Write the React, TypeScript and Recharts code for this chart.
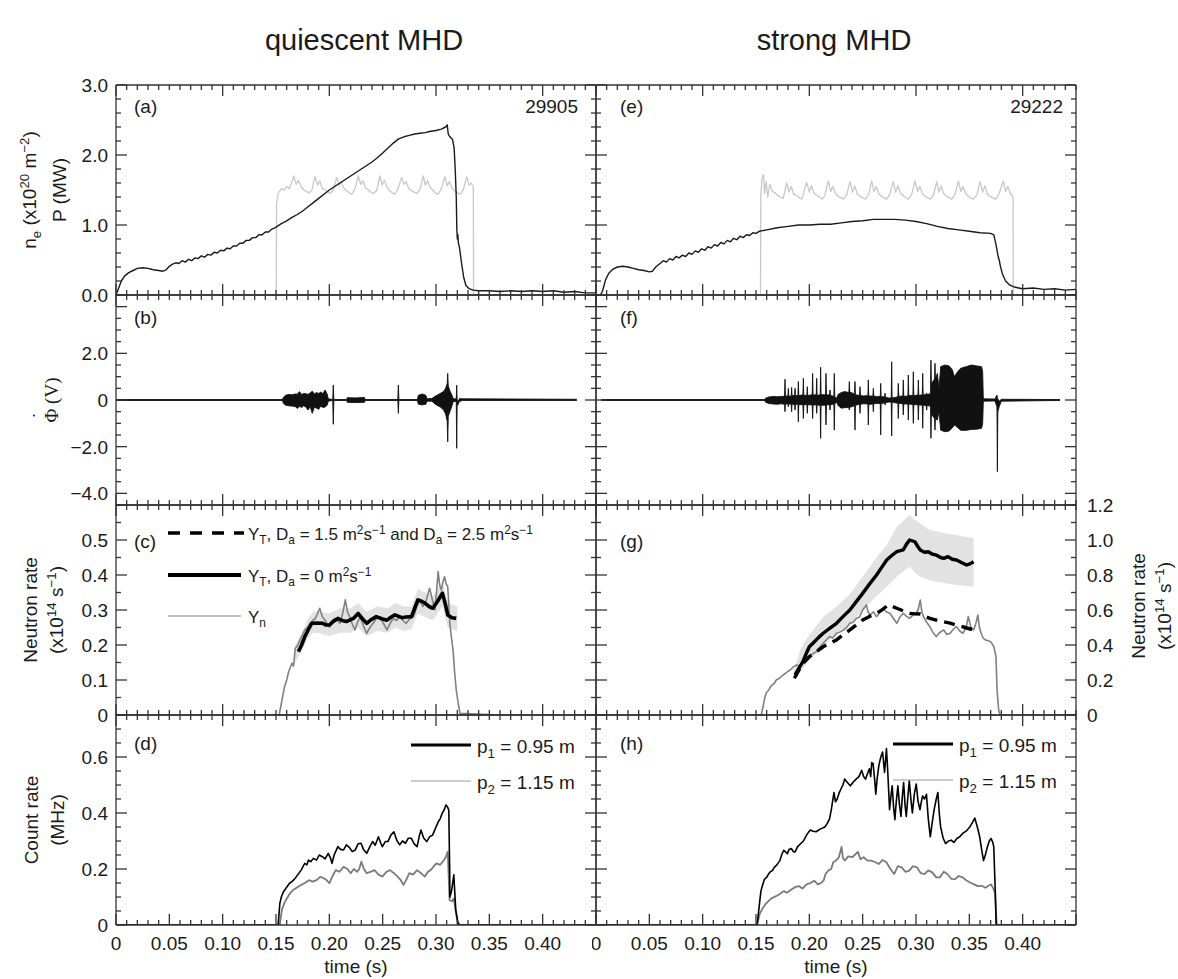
import React from "react";
import { ComposedChart, Line, Area, XAxis, YAxis } from "recharts";

type Pt = [number, number];
type Env = [number, number, number];

const FONT = '"Liberation Sans", Arial, Helvetica, sans-serif';
const SERIF = '"Liberation Serif", "DejaVu Serif", serif';
const INK = "#1a1a1a";
const AXIS = "#333";

// ---------- panel (a): shot 29905, density (black) and NBI power (grey) ----------
const densityA: Pt[] = [
  [0, 0], [0.002, 0.08], [0.005, 0.2], [0.008, 0.27], [0.012, 0.32], [0.016, 0.35], [0.02, 0.38],
  [0.025, 0.39], [0.03, 0.38], [0.035, 0.36], [0.04, 0.35], [0.044, 0.34], [0.047, 0.36], [0.05, 0.41],
  [0.053, 0.44], [0.056, 0.46], [0.059, 0.45], [0.062, 0.49], [0.065, 0.47], [0.068, 0.51], [0.071, 0.49],
  [0.074, 0.53], [0.077, 0.52], [0.08, 0.56], [0.083, 0.54], [0.086, 0.58], [0.089, 0.57], [0.092, 0.61],
  [0.095, 0.6], [0.098, 0.64], [0.101, 0.63], [0.104, 0.67], [0.107, 0.66], [0.11, 0.7], [0.113, 0.7],
  [0.116, 0.74], [0.119, 0.74], [0.122, 0.78], [0.125, 0.78], [0.128, 0.82], [0.131, 0.82], [0.134, 0.86],
  [0.137, 0.86], [0.14, 0.9], [0.143, 0.9], [0.146, 0.94], [0.149, 0.96], [0.155, 1.02], [0.16, 1.06],
  [0.165, 1.11], [0.17, 1.15], [0.175, 1.2], [0.18, 1.26], [0.185, 1.32], [0.19, 1.38], [0.195, 1.44],
  [0.2, 1.5], [0.205, 1.55], [0.21, 1.6], [0.215, 1.65], [0.22, 1.7], [0.225, 1.75], [0.23, 1.8],
  [0.235, 1.85], [0.24, 1.9], [0.245, 1.96], [0.25, 2.03], [0.255, 2.1], [0.26, 2.17], [0.265, 2.23],
  [0.27, 2.26], [0.275, 2.28], [0.28, 2.3], [0.285, 2.31], [0.29, 2.32], [0.295, 2.34], [0.3, 2.35],
  [0.305, 2.37], [0.309, 2.4], [0.3105, 2.43], [0.3115, 2.3], [0.313, 2.26], [0.3155, 2.22], [0.317, 2.1],
  [0.318, 1.8], [0.319, 1.4], [0.3195, 0.95], [0.32, 0.8], [0.3205, 0.86], [0.321, 0.74], [0.322, 0.68],
  [0.324, 0.45], [0.326, 0.25], [0.328, 0.14], [0.331, 0.09], [0.335, 0.07], [0.34, 0.06], [0.35, 0.06],
  [0.36, 0.05], [0.37, 0.06], [0.38, 0.05], [0.39, 0.06], [0.4, 0.05], [0.41, 0.06], [0.42, 0.04],
  [0.43, 0.05], [0.44, 0.03], [0.45, 0.03],
];
const powerA: Pt[] = [
  [0.1503, 0], [0.1505, 1.3], [0.152, 1.45], [0.155, 1.52], [0.1575, 1.5], [0.16, 1.55], [0.1625, 1.52],
  [0.165, 1.62], [0.1665, 1.7], [0.169, 1.58], [0.171, 1.64], [0.1735, 1.55], [0.176, 1.5], [0.1785, 1.48],
  [0.181, 1.46], [0.1835, 1.49], [0.1866, 1.69], [0.189, 1.57], [0.191, 1.63], [0.1935, 1.52], [0.196, 1.5],
  [0.1985, 1.47], [0.201, 1.45], [0.2035, 1.5], [0.2069, 1.68], [0.209, 1.56], [0.211, 1.62], [0.2135, 1.53],
  [0.216, 1.49], [0.2185, 1.46], [0.221, 1.44], [0.224, 1.52], [0.2272, 1.7], [0.2295, 1.58], [0.2315, 1.63],
  [0.234, 1.53], [0.2365, 1.5], [0.239, 1.47], [0.2415, 1.45], [0.2445, 1.5], [0.2475, 1.7], [0.2495, 1.57],
  [0.2515, 1.64], [0.254, 1.54], [0.2565, 1.49], [0.259, 1.46], [0.2615, 1.44], [0.2645, 1.52], [0.2678, 1.68],
  [0.27, 1.58], [0.272, 1.62], [0.2745, 1.52], [0.277, 1.49], [0.2795, 1.47], [0.282, 1.45], [0.285, 1.51],
  [0.2881, 1.7], [0.29, 1.57], [0.292, 1.63], [0.2945, 1.54], [0.297, 1.5], [0.2995, 1.46], [0.302, 1.44],
  [0.305, 1.52], [0.3084, 1.69], [0.3105, 1.56], [0.3125, 1.62], [0.315, 1.53], [0.3175, 1.49], [0.32, 1.46],
  [0.3225, 1.44], [0.3255, 1.5], [0.3288, 1.69], [0.331, 1.57], [0.333, 1.6], [0.335, 1.55], [0.3352, 0],
];

// ---------- panel (e): shot 29222 ----------
const densityE: Pt[] = [
  [0, 0], [0.004, 0], [0.006, 0.05], [0.009, 0.22], [0.012, 0.31], [0.016, 0.37], [0.02, 0.4],
  [0.025, 0.41], [0.03, 0.4], [0.035, 0.38], [0.04, 0.36], [0.045, 0.35], [0.05, 0.33], [0.053, 0.34],
  [0.056, 0.4], [0.06, 0.45], [0.063, 0.49], [0.066, 0.47], [0.069, 0.52], [0.072, 0.5], [0.075, 0.55],
  [0.078, 0.53], [0.081, 0.57], [0.084, 0.55], [0.087, 0.6], [0.09, 0.58], [0.093, 0.63], [0.096, 0.61],
  [0.099, 0.66], [0.102, 0.64], [0.105, 0.69], [0.108, 0.67], [0.111, 0.72], [0.114, 0.7], [0.117, 0.75],
  [0.12, 0.73], [0.123, 0.78], [0.126, 0.76], [0.129, 0.81], [0.132, 0.79], [0.135, 0.84], [0.138, 0.82],
  [0.141, 0.86], [0.144, 0.85], [0.147, 0.89], [0.15, 0.88], [0.153, 0.91], [0.16, 0.93], [0.17, 0.96],
  [0.18, 0.98], [0.19, 1.0], [0.2, 1.0], [0.21, 1.01], [0.22, 1.01], [0.23, 1.03], [0.24, 1.05],
  [0.25, 1.06], [0.26, 1.08], [0.27, 1.08], [0.28, 1.08], [0.29, 1.07], [0.3, 1.05], [0.31, 1.02],
  [0.32, 0.98], [0.33, 0.95], [0.34, 0.93], [0.35, 0.91], [0.36, 0.89], [0.37, 0.88], [0.373, 0.86],
  [0.375, 0.72], [0.377, 0.55], [0.378, 0.5], [0.379, 0.42], [0.381, 0.3], [0.384, 0.2], [0.388, 0.14],
  [0.393, 0.11], [0.4, 0.09], [0.41, 0.1], [0.42, 0.08], [0.43, 0.09], [0.44, 0.07], [0.45, 0.08],
];
const powerE: Pt[] = [
  [0.1542, 0], [0.1545, 1.4], [0.1555, 1.66], [0.157, 1.72], [0.158, 1.45], [0.1595, 1.62], [0.161, 1.4],
  [0.163, 1.58], [0.1655, 1.48], [0.168, 1.46], [0.1705, 1.42], [0.173, 1.4], [0.1755, 1.38], [0.1788, 1.6],
  [0.181, 1.47], [0.183, 1.55], [0.1855, 1.44], [0.188, 1.42], [0.1905, 1.39], [0.193, 1.37], [0.1975, 1.61],
  [0.2, 1.47], [0.202, 1.56], [0.2045, 1.45], [0.207, 1.42], [0.2095, 1.4], [0.212, 1.37], [0.2145, 1.42],
  [0.2178, 1.63], [0.22, 1.48], [0.222, 1.55], [0.2245, 1.45], [0.227, 1.41], [0.2295, 1.39], [0.232, 1.37],
  [0.235, 1.43], [0.2381, 1.62], [0.2405, 1.47], [0.2425, 1.56], [0.245, 1.44], [0.2475, 1.41], [0.25, 1.39],
  [0.2525, 1.37], [0.2555, 1.43], [0.2584, 1.63], [0.2605, 1.48], [0.2625, 1.55], [0.265, 1.45], [0.2675, 1.41],
  [0.27, 1.39], [0.2725, 1.37], [0.2755, 1.44], [0.2787, 1.62], [0.281, 1.47], [0.283, 1.56], [0.2855, 1.45],
  [0.288, 1.42], [0.2905, 1.39], [0.293, 1.37], [0.296, 1.44], [0.299, 1.63], [0.3015, 1.48], [0.3035, 1.55],
  [0.306, 1.45], [0.3085, 1.41], [0.311, 1.39], [0.3135, 1.37], [0.3165, 1.43], [0.3194, 1.62], [0.3215, 1.47],
  [0.3235, 1.56], [0.326, 1.45], [0.3285, 1.41], [0.331, 1.39], [0.3335, 1.37], [0.3365, 1.44], [0.3397, 1.63],
  [0.342, 1.48], [0.344, 1.55], [0.3465, 1.45], [0.349, 1.41], [0.3515, 1.38], [0.354, 1.37], [0.357, 1.43],
  [0.36, 1.62], [0.3625, 1.47], [0.3645, 1.56], [0.367, 1.44], [0.3695, 1.41], [0.372, 1.39], [0.3745, 1.37],
  [0.378, 1.45], [0.3818, 1.63], [0.384, 1.48], [0.386, 1.55], [0.3885, 1.45], [0.391, 1.4], [0.3912, 0],
];

// ---------- panels (b), (f): magnetic pick-up signal, [time, min, max] ----------
const mhdB: Env[] = [
  [0, -0.02, 0.02], [0.156, -0.02, 0.02], [0.157, -0.15, 0.12], [0.159, -0.22, 0.2], [0.162, -0.25, 0.24],
  [0.165, -0.26, 0.22], [0.168, -0.28, 0.26], [0.17, -0.36, 0.25], [0.172, -0.27, 0.36], [0.174, -0.32, 0.24],
  [0.176, -0.25, 0.28], [0.178, -0.3, 0.27], [0.18, -0.43, 0.24], [0.182, -0.28, 0.3], [0.184, -0.57, 0.38],
  [0.186, -0.3, 0.26], [0.188, -0.35, 0.32], [0.19, -0.4, 0.28], [0.192, -0.26, 0.34], [0.194, -0.32, 0.27],
  [0.196, -0.3, 0.43], [0.198, -0.22, 0.25], [0.199, -0.05, 0.05], [0.2032, -0.02, 0.02], [0.2037, -1.04, 0.64],
  [0.2042, -0.02, 0.02], [0.2163, -0.02, 0.02], [0.2168, -0.1, 0.1], [0.225, -0.11, 0.09], [0.233, -0.1, 0.11],
  [0.2335, -0.02, 0.02], [0.2642, -0.02, 0.02], [0.2647, -0.57, 0.64], [0.2652, -0.02, 0.02], [0.2825, -0.02, 0.02],
  [0.2835, -0.18, 0.2], [0.287, -0.21, 0.26], [0.2905, -0.18, 0.2], [0.2915, -0.05, 0.05], [0.296, -0.05, 0.06],
  [0.3, -0.2, 0.18], [0.304, -0.3, 0.28], [0.307, -0.42, 0.36], [0.309, -0.6, 0.5], [0.3105, -0.9, 0.7],
  [0.311, -1.79, 1.14], [0.3115, -0.7, 0.6], [0.313, -0.5, 0.4], [0.315, -0.25, 0.2], [0.316, -0.08, 0.06],
  [0.319, -0.05, 0.04], [0.3194, -2.07, 0.64], [0.3198, -0.25, 0.04], [0.3205, -0.21, -0.1], [0.322, -0.06, 0.06],
  [0.325, -0.02, 0.05], [0.432, -0.02, 0.03],
];
const mhdF: Env[] = [
  [0.005, -0.02, 0.02], [0.158, -0.02, 0.02], [0.159, -0.1, 0.08], [0.162, -0.15, 0.13], [0.166, -0.17, 0.15],
  [0.17, -0.18, 0.14], [0.174, -0.16, 0.15], [0.1756, -0.18, 0.16],
  [0.1768, -0.16, 0.17], [0.1772, -0.5, 0.89], [0.1776, -0.17, 0.16],
  [0.1799, -0.17, 0.18], [0.1803, -0.29, 0.5], [0.1807, -0.16, 0.17],
  [0.183, -0.19, 0.16], [0.1834, -0.5, 0.54], [0.1838, -0.17, 0.19],
  [0.1862, -0.2, 0.2], [0.1866, -0.43, 0.5], [0.187, -0.19, 0.17],
  [0.1893, -0.17, 0.2], [0.1897, -0.93, 0.79], [0.1901, -0.2, 0.19],
  [0.194, -0.2, 0.22], [0.1944, -0.79, 0.93], [0.1948, -0.21, 0.2],
  [0.1977, -0.19, 0.2], [0.1981, -0.57, 0.57], [0.1985, -0.2, 0.19],
  [0.2027, -0.21, 0.23], [0.2031, -0.79, 1.14], [0.2035, -0.22, 0.21],
  [0.2065, -0.2, 0.23], [0.2069, -0.57, 0.93], [0.2073, -0.21, 0.2],
  [0.2102, -0.23, 0.22], [0.2106, -1.64, 1.4], [0.211, -0.22, 0.23],
  [0.2152, -0.23, 0.22], [0.2156, -1.07, 1.14], [0.216, -0.21, 0.23],
  [0.219, -0.2, 0.21], [0.2194, -0.43, 0.43], [0.2198, -0.2, 0.19],
  [0.223, -0.17, 0.16], [0.2234, -1.29, 1.14], [0.2238, -0.16, 0.14],
  [0.2256, -0.1, 0.08], [0.2272, -0.25, 0.25], [0.23, -0.35, 0.32], [0.233, -0.33, 0.36], [0.236, -0.32, 0.33],
  [0.2371, -0.33, 0.35], [0.2375, -0.43, 0.79], [0.2379, -0.31, 0.33], [0.2405, -0.28, 0.3],
  [0.2424, -0.24, 0.24], [0.2428, -1.29, 0.79], [0.2432, -0.24, 0.22], [0.245, -0.2, 0.21],
  [0.2471, -0.19, 0.2], [0.2475, -0.57, 0.57], [0.2479, -0.18, 0.19], [0.251, -0.16, 0.17],
  [0.2549, -0.17, 0.19], [0.2553, -1.07, 0.86], [0.2557, -0.19, 0.17],
  [0.2596, -0.17, 0.17], [0.26, -0.5, 0.5], [0.2604, -0.16, 0.17], [0.2635, -0.14, 0.14],
  [0.2665, -0.16, 0.16], [0.2669, -1.5, 0.71], [0.2673, -0.16, 0.14],
  [0.2706, -0.12, 0.14], [0.271, -0.21, 0.29], [0.2714, -0.12, 0.12], [0.274, -0.09, 0.09],
  [0.2768, -0.09, 0.09], [0.2772, -1.54, 1.64], [0.2776, -0.09, 0.09], [0.2805, -0.12, 0.11],
  [0.283, -0.14, 0.14], [0.2834, -0.79, 0.71], [0.2838, -0.14, 0.16],
  [0.2877, -0.16, 0.17], [0.2881, -0.64, 0.86], [0.2885, -0.17, 0.16],
  [0.2924, -0.17, 0.17], [0.2928, -0.86, 1.07], [0.2932, -0.17, 0.19],
  [0.2971, -0.19, 0.2], [0.2975, -1.0, 1.21], [0.2979, -0.2, 0.19],
  [0.3018, -0.2, 0.21], [0.3022, -0.86, 0.86], [0.3026, -0.21, 0.2],
  [0.3059, -0.22, 0.22], [0.3063, -1.21, 1.14], [0.3067, -0.22, 0.21],
  [0.3096, -0.24, 0.24], [0.31, -0.43, 0.29], [0.3104, -0.24, 0.24],
  [0.3136, -0.26, 0.27], [0.314, -1.64, 1.71], [0.3144, -0.6, 0.7],
  [0.3174, -0.8, 0.9], [0.3178, -1.29, 1.57], [0.3182, -0.8, 0.9],
  [0.32, -0.86, 1.14], [0.3215, -0.5, 0.5], [0.3228, -1.1, 1.2], [0.3231, -1.29, 1.43], [0.327, -1.36, 1.5],
  [0.331, -1.33, 1.46], [0.334, -1.2, 1.3], [0.336, -1.07, 1.0], [0.339, -1.18, 1.21], [0.342, -1.3, 1.36],
  [0.347, -1.3, 1.43], [0.352, -1.26, 1.5], [0.357, -1.25, 1.46], [0.3615, -1.21, 1.43], [0.3625, -1.0, 1.2],
  [0.3631, -0.05, 0.05], [0.374, -0.04, 0.04], [0.3759, -0.3, 0.21], [0.3763, -3.07, 0.1], [0.3767, -0.5, 0.05],
  [0.378, -0.29, -0.05], [0.38, -0.05, 0.03], [0.435, -0.02, 0.02],
];

// ---------- panel (c): neutron rate, quiescent ----------
const measuredC: Pt[] = [
  [0.123, 0], [0.153, 0], [0.155, 0.033], [0.158, 0.081], [0.16, 0.1], [0.162, 0.125], [0.165, 0.148],
  [0.1665, 0.14], [0.168, 0.19], [0.1705, 0.2], [0.1725, 0.214], [0.175, 0.23], [0.177, 0.243], [0.1795, 0.25],
  [0.182, 0.262], [0.1845, 0.27], [0.187, 0.276], [0.189, 0.29], [0.191, 0.305], [0.1935, 0.28], [0.196, 0.271],
  [0.198, 0.26], [0.2, 0.252], [0.2025, 0.268], [0.205, 0.276], [0.2075, 0.27], [0.21, 0.262], [0.2125, 0.29],
  [0.215, 0.329], [0.217, 0.295], [0.219, 0.281], [0.2215, 0.26], [0.224, 0.243], [0.2265, 0.265], [0.229, 0.281],
  [0.232, 0.255], [0.235, 0.233], [0.238, 0.25], [0.241, 0.262], [0.244, 0.275], [0.2475, 0.281], [0.251, 0.26],
  [0.254, 0.243], [0.257, 0.262], [0.26, 0.276], [0.263, 0.27], [0.266, 0.281], [0.269, 0.27], [0.272, 0.262],
  [0.2755, 0.275], [0.279, 0.281], [0.282, 0.31], [0.285, 0.329], [0.2875, 0.31], [0.29, 0.319], [0.292, 0.34],
  [0.294, 0.362], [0.2965, 0.33], [0.299, 0.3], [0.3005, 0.35], [0.302, 0.41], [0.3035, 0.37], [0.305, 0.357],
  [0.3065, 0.38], [0.308, 0.395], [0.3095, 0.375], [0.311, 0.367], [0.313, 0.262], [0.3145, 0.22], [0.316, 0.186],
  [0.3175, 0.12], [0.319, 0.071], [0.321, 0.03], [0.3225, 0.005], [0.36, 0],
];
const simNoDiffC: Pt[] = [
  [0.171, 0.181], [0.174, 0.2], [0.177, 0.224], [0.1805, 0.245], [0.1835, 0.262], [0.188, 0.263], [0.194, 0.262],
  [0.197, 0.257], [0.2, 0.257], [0.204, 0.268], [0.208, 0.276], [0.212, 0.27], [0.216, 0.267], [0.2225, 0.276],
  [0.227, 0.29], [0.231, 0.275], [0.235, 0.262], [0.239, 0.272], [0.244, 0.281], [0.249, 0.275], [0.254, 0.271],
  [0.258, 0.28], [0.2615, 0.286], [0.268, 0.278], [0.272, 0.28], [0.277, 0.281], [0.28, 0.305], [0.283, 0.329],
  [0.2865, 0.325], [0.29, 0.319], [0.2935, 0.31], [0.297, 0.305], [0.3015, 0.325], [0.306, 0.348], [0.3085, 0.32],
  [0.311, 0.286], [0.315, 0.278], [0.319, 0.276],
];
const bandC: Env[] = [
  [0.168, 0.15, 0.2], [0.175, 0.19, 0.24], [0.18, 0.22, 0.275], [0.185, 0.235, 0.295], [0.19, 0.235, 0.295],
  [0.2, 0.225, 0.29], [0.21, 0.235, 0.305], [0.22, 0.235, 0.305], [0.227, 0.25, 0.32], [0.235, 0.225, 0.295],
  [0.245, 0.24, 0.31], [0.255, 0.235, 0.305], [0.2615, 0.25, 0.32], [0.27, 0.24, 0.31], [0.277, 0.245, 0.31],
  [0.283, 0.29, 0.36], [0.29, 0.28, 0.35], [0.297, 0.27, 0.34], [0.306, 0.31, 0.38], [0.311, 0.25, 0.32],
  [0.32, 0.24, 0.31],
];

// ---------- panel (g): neutron rate, strong MHD (right axis) ----------
const measuredG: Pt[] = [
  [0.126, 0], [0.155, 0], [0.1585, 0.105], [0.16, 0.13], [0.162, 0.143], [0.1635, 0.16], [0.165, 0.171],
  [0.167, 0.18], [0.169, 0.2], [0.172, 0.21], [0.1755, 0.229], [0.178, 0.24], [0.18, 0.25], [0.182, 0.257],
  [0.185, 0.275], [0.188, 0.286], [0.191, 0.28], [0.194, 0.305], [0.197, 0.32], [0.2, 0.333], [0.203, 0.35],
  [0.207, 0.362], [0.21, 0.39], [0.213, 0.41], [0.216, 0.43], [0.219, 0.448], [0.222, 0.44], [0.2255, 0.467],
  [0.229, 0.475], [0.232, 0.486], [0.235, 0.5], [0.238, 0.524], [0.241, 0.53], [0.244, 0.552], [0.247, 0.56],
  [0.25, 0.6], [0.2535, 0.629], [0.255, 0.59], [0.257, 0.571], [0.26, 0.59], [0.263, 0.562], [0.266, 0.585],
  [0.269, 0.61], [0.272, 0.59], [0.2755, 0.581], [0.279, 0.55], [0.282, 0.524], [0.285, 0.56], [0.288, 0.581],
  [0.291, 0.565], [0.294, 0.552], [0.297, 0.57], [0.3, 0.581], [0.302, 0.6], [0.304, 0.657], [0.3055, 0.59],
  [0.307, 0.562], [0.31, 0.53], [0.313, 0.505], [0.316, 0.47], [0.319, 0.448], [0.322, 0.47], [0.326, 0.486],
  [0.329, 0.46], [0.332, 0.467], [0.335, 0.49], [0.338, 0.505], [0.341, 0.48], [0.344, 0.467], [0.347, 0.5],
  [0.349, 0.562], [0.3515, 0.5], [0.354, 0.486], [0.356, 0.52], [0.358, 0.571], [0.3595, 0.5], [0.361, 0.467],
  [0.363, 0.44], [0.365, 0.429], [0.3675, 0.425], [0.37, 0.419], [0.373, 0.39], [0.375, 0.333], [0.376, 0.143],
  [0.3775, 0.029], [0.379, 0],
];
const simNoDiffG: Pt[] = [
  [0.1866, 0.229], [0.19, 0.265], [0.194, 0.305], [0.197, 0.35], [0.2, 0.39], [0.205, 0.42], [0.209, 0.445],
  [0.213, 0.467], [0.219, 0.495], [0.2255, 0.524], [0.232, 0.565], [0.238, 0.6], [0.244, 0.648], [0.25, 0.695],
  [0.256, 0.745], [0.263, 0.8], [0.268, 0.845], [0.2725, 0.886], [0.277, 0.91], [0.282, 0.933], [0.288, 0.943],
  [0.291, 0.975], [0.294, 1.0], [0.299, 0.99], [0.302, 0.96], [0.304, 0.943], [0.308, 0.93], [0.3115, 0.933],
  [0.315, 0.92], [0.319, 0.914], [0.323, 0.9], [0.326, 0.895], [0.33, 0.905], [0.334, 0.89], [0.338, 0.886],
  [0.343, 0.87], [0.3475, 0.857], [0.351, 0.865], [0.354, 0.876],
];
const simDiffG: Pt[] = [
  [0.186, 0.21], [0.19, 0.255], [0.194, 0.295], [0.2, 0.333], [0.206, 0.36], [0.213, 0.39], [0.219, 0.41],
  [0.2255, 0.429], [0.232, 0.46], [0.238, 0.486], [0.244, 0.515], [0.25, 0.543], [0.256, 0.562], [0.263, 0.581],
  [0.268, 0.6], [0.274, 0.629], [0.278, 0.62], [0.282, 0.61], [0.288, 0.595], [0.294, 0.581], [0.299, 0.578],
  [0.304, 0.577], [0.308, 0.565], [0.313, 0.552], [0.32, 0.54], [0.326, 0.533], [0.332, 0.525], [0.338, 0.514],
  [0.346, 0.5], [0.354, 0.486],
];
const bandG: Env[] = [
  [0.186, 0.2, 0.26], [0.192, 0.25, 0.38], [0.198, 0.3, 0.44], [0.213, 0.39, 0.562], [0.2255, 0.47, 0.62],
  [0.238, 0.52, 0.69], [0.25, 0.6, 0.79], [0.263, 0.68, 0.9], [0.2725, 0.733, 0.97], [0.282, 0.79, 1.076],
  [0.29, 0.83, 1.12], [0.294, 0.848, 1.143], [0.298, 0.82, 1.12], [0.304, 0.79, 1.095], [0.313, 0.77, 1.057],
  [0.326, 0.755, 1.04], [0.338, 0.743, 1.029], [0.354, 0.733, 1.01],
];

// ---------- panels (d), (h): FIDA count rates ----------
const p1D: Pt[] = [
  [0, 0], [0.152, 0], [0.1536, 0.077], [0.155, 0.1], [0.157, 0.119], [0.16, 0.135], [0.1627, 0.149],
  [0.165, 0.155], [0.168, 0.167], [0.1705, 0.18], [0.1736, 0.196], [0.1755, 0.21], [0.177, 0.22], [0.179, 0.215],
  [0.1805, 0.232], [0.1826, 0.226], [0.185, 0.238], [0.188, 0.232], [0.1905, 0.25], [0.1935, 0.244], [0.196, 0.236],
  [0.199, 0.256], [0.201, 0.24], [0.2025, 0.22], [0.2045, 0.25], [0.208, 0.28], [0.2105, 0.27], [0.2134, 0.268],
  [0.216, 0.286], [0.219, 0.276], [0.2215, 0.262], [0.2243, 0.268], [0.227, 0.29], [0.2297, 0.292], [0.232, 0.27],
  [0.235, 0.256], [0.238, 0.28], [0.2406, 0.298], [0.243, 0.285], [0.246, 0.315], [0.2485, 0.29], [0.2497, 0.28],
  [0.2525, 0.298], [0.255, 0.298], [0.2575, 0.32], [0.2605, 0.333], [0.2635, 0.3], [0.266, 0.286], [0.2685, 0.3],
  [0.2714, 0.292], [0.274, 0.31], [0.2768, 0.31], [0.2795, 0.29], [0.2823, 0.28], [0.2845, 0.32], [0.2859, 0.339],
  [0.2885, 0.31], [0.2913, 0.298], [0.294, 0.315], [0.2968, 0.321], [0.2995, 0.345], [0.3022, 0.369], [0.304, 0.38],
  [0.3058, 0.399], [0.3075, 0.41], [0.3094, 0.429], [0.311, 0.42], [0.312, 0.41], [0.3128, 0.2], [0.313, 0.1],
  [0.3145, 0.12], [0.3167, 0.179], [0.3185, 0.054], [0.3205, 0.01], [0.322, 0], [0.45, 0],
];
const p2D: Pt[] = [
  [0, 0], [0.1535, 0], [0.1555, 0.054], [0.158, 0.08], [0.161, 0.1], [0.1635, 0.115], [0.166, 0.125],
  [0.17, 0.135], [0.1736, 0.143], [0.177, 0.15], [0.181, 0.16], [0.1845, 0.155], [0.188, 0.16], [0.1915, 0.172],
  [0.195, 0.167], [0.1975, 0.16], [0.2, 0.149], [0.203, 0.175], [0.206, 0.196], [0.2095, 0.19], [0.2134, 0.208],
  [0.217, 0.2], [0.22, 0.185], [0.223, 0.2], [0.226, 0.19], [0.228, 0.2], [0.23, 0.226], [0.2325, 0.2],
  [0.235, 0.185], [0.2385, 0.19], [0.2424, 0.196], [0.246, 0.18], [0.2497, 0.173], [0.2535, 0.19], [0.257, 0.196],
  [0.2605, 0.185], [0.264, 0.173], [0.267, 0.16], [0.2696, 0.143], [0.2725, 0.165], [0.275, 0.185], [0.2785, 0.18],
  [0.2823, 0.196], [0.286, 0.185], [0.2895, 0.173], [0.2925, 0.19], [0.295, 0.196], [0.298, 0.21], [0.3004, 0.22],
  [0.304, 0.215], [0.3076, 0.232], [0.3095, 0.245], [0.311, 0.262], [0.3127, 0.089], [0.315, 0.085], [0.3167, 0.095],
  [0.3185, 0.05], [0.3203, 0.006], [0.3215, 0], [0.45, 0],
];
const p1H: Pt[] = [
  [0, 0], [0.151, 0], [0.1546, 0.121], [0.156, 0.14], [0.158, 0.164], [0.16, 0.17], [0.1617, 0.182],
  [0.1635, 0.19], [0.1653, 0.194], [0.167, 0.205], [0.1688, 0.212], [0.1705, 0.22], [0.1724, 0.23], [0.174, 0.25],
  [0.176, 0.267], [0.178, 0.26], [0.1795, 0.255], [0.181, 0.27], [0.1831, 0.273], [0.185, 0.262], [0.1867, 0.261],
  [0.189, 0.28], [0.192, 0.291], [0.1945, 0.3], [0.1974, 0.321], [0.199, 0.33], [0.201, 0.339], [0.2035, 0.335],
  [0.2063, 0.333], [0.209, 0.34], [0.2117, 0.345], [0.2145, 0.35], [0.217, 0.364], [0.219, 0.38], [0.2206, 0.412],
  [0.2231, 0.473], [0.2245, 0.44], [0.2259, 0.448], [0.2278, 0.47], [0.2295, 0.485], [0.2315, 0.5], [0.2331, 0.521],
  [0.2355, 0.51], [0.2384, 0.497], [0.241, 0.51], [0.2438, 0.521], [0.2465, 0.53], [0.2491, 0.552], [0.2509, 0.53],
  [0.2527, 0.521], [0.2545, 0.54], [0.2563, 0.558], [0.2575, 0.53], [0.2585, 0.58], [0.2598, 0.576], [0.2612, 0.52],
  [0.2623, 0.467], [0.2635, 0.52], [0.2652, 0.57], [0.267, 0.6], [0.2687, 0.618], [0.2705, 0.545], [0.2715, 0.59],
  [0.2723, 0.63], [0.2735, 0.55], [0.2752, 0.412], [0.2765, 0.46], [0.2777, 0.497], [0.279, 0.42], [0.2802, 0.376],
  [0.2815, 0.44], [0.283, 0.497], [0.2845, 0.43], [0.2859, 0.388], [0.2872, 0.46], [0.2884, 0.509], [0.2897, 0.43],
  [0.2909, 0.388], [0.2922, 0.45], [0.2937, 0.515], [0.2952, 0.45], [0.2966, 0.4], [0.2985, 0.47], [0.3002, 0.503],
  [0.302, 0.44], [0.3037, 0.412], [0.305, 0.44], [0.3062, 0.461], [0.308, 0.45], [0.3098, 0.467], [0.3115, 0.38],
  [0.3134, 0.315], [0.315, 0.36], [0.317, 0.412], [0.319, 0.45], [0.3205, 0.473], [0.3218, 0.4], [0.323, 0.352],
  [0.3255, 0.31], [0.3277, 0.291], [0.3305, 0.3], [0.333, 0.303], [0.3355, 0.295], [0.3383, 0.309], [0.341, 0.315],
  [0.3437, 0.327], [0.347, 0.335], [0.3508, 0.352], [0.3535, 0.37], [0.3551, 0.382], [0.3575, 0.35], [0.3597, 0.315],
  [0.3615, 0.27], [0.3633, 0.23], [0.365, 0.25], [0.3669, 0.279], [0.3687, 0.3], [0.3704, 0.309], [0.372, 0.295],
  [0.3729, 0.279], [0.3745, 0.1], [0.3751, 0], [0.45, 0],
];
const p2H: Pt[] = [
  [0, 0], [0.151, 0], [0.1535, 0.04], [0.1564, 0.061], [0.159, 0.075], [0.1617, 0.085], [0.1645, 0.095],
  [0.1688, 0.103], [0.172, 0.11], [0.176, 0.121], [0.179, 0.115], [0.1831, 0.127], [0.1865, 0.135], [0.1902, 0.139],
  [0.1935, 0.13], [0.1974, 0.145], [0.201, 0.15], [0.2045, 0.158], [0.208, 0.145], [0.2117, 0.152], [0.2135, 0.16],
  [0.2152, 0.182], [0.218, 0.195], [0.2205, 0.2], [0.2224, 0.224], [0.225, 0.23], [0.2277, 0.242], [0.2302, 0.279],
  [0.2315, 0.24], [0.2331, 0.23], [0.2365, 0.245], [0.2402, 0.242], [0.2425, 0.25], [0.2455, 0.261], [0.248, 0.235],
  [0.2509, 0.242], [0.2545, 0.23], [0.258, 0.23], [0.2615, 0.225], [0.2652, 0.218], [0.2685, 0.232], [0.2723, 0.224],
  [0.276, 0.2], [0.2795, 0.182], [0.283, 0.21], [0.2866, 0.206], [0.29, 0.19], [0.2937, 0.194], [0.297, 0.21],
  [0.3009, 0.206], [0.3045, 0.185], [0.308, 0.182], [0.3115, 0.195], [0.3152, 0.188], [0.319, 0.17], [0.3223, 0.17],
  [0.326, 0.19], [0.3294, 0.182], [0.333, 0.165], [0.3366, 0.164], [0.34, 0.175], [0.3437, 0.17], [0.347, 0.16],
  [0.3508, 0.152], [0.3545, 0.145], [0.358, 0.139], [0.3615, 0.14], [0.3651, 0.133], [0.368, 0.14], [0.3704, 0.145],
  [0.3725, 0.13], [0.374, 0.115], [0.3758, 0], [0.45, 0],
];

// ---------- tick labels ----------
const timeTicks = [0, 0.05, 0.1, 0.15, 0.2, 0.25, 0.3, 0.35, 0.4];
const ticksA = [0, 1, 2, 3];
const ticksB = [-4, -2, 0, 2];
const ticksC = [0, 0.1, 0.2, 0.3, 0.4, 0.5];
const ticksG = [0, 0.2, 0.4, 0.6, 0.8, 1.0, 1.2];
const ticksD = [0, 0.2, 0.4, 0.6];

const pts = (a: Pt[]) => a.map(([t, v]) => ({ t, v }));
const envPts = (a: Env[]) => a.map(([t, lo, hi]) => ({ t, r: [lo, hi] }));

function steps(lo: number, hi: number, step: number) {
  const out: number[] = [];
  const n = Math.round((hi - lo) / step);
  for (let i = 0; i <= n; i++) out.push(Math.round((lo + i * step) * 1e6) / 1e6);
  return out;
}
const has = (list: number[] | undefined, v: number) => !!list && list.some((m) => Math.abs(m - v) < 1e-6);

const fmtTime = (v: number) => (v === 0 ? "0" : v.toFixed(2));
const fmt1 = (v: number) => v.toFixed(1);
const fmtSigned = (v: number) => (v === 0 ? "0" : (v < 0 ? "\u2212" : "") + Math.abs(v).toFixed(1));
const fmtPlain = (v: number) => (v === 0 ? "0" : v.toFixed(1));

const axisStroke = { stroke: AXIS, strokeWidth: 1.3 };

type Side = "left" | "right" | "top" | "bottom";

// inward tick marks (long on majors) plus optional outside labels
function tickMark(side: Side, majors: number[], labels?: number[], fmt?: (v: number) => string) {
  return (props: any) => {
    const { x, y, payload } = props;
    const v = payload.value;
    const len = has(majors, v) ? 11 : 5;
    const lab = has(labels, v) && fmt ? fmt(v) : null;
    const textProps = { fontSize: 19, fill: INK, fontFamily: FONT };
    let mark;
    let text = null;
    if (side === "left") {
      mark = <line x1={x} y1={y} x2={x + len} y2={y} {...axisStroke} />;
      if (lab) text = <text x={x - 8} y={y} dy="0.36em" textAnchor="end" {...textProps}>{lab}</text>;
    } else if (side === "right") {
      mark = <line x1={x} y1={y} x2={x - len} y2={y} {...axisStroke} />;
      if (lab) text = <text x={x + 11} y={y} dy="0.36em" textAnchor="start" {...textProps}>{lab}</text>;
    } else if (side === "top") {
      mark = <line x1={x} y1={y} x2={x} y2={y + len} {...axisStroke} />;
    } else {
      mark = <line x1={x} y1={y} x2={x} y2={y - len} {...axisStroke} />;
      if (lab) text = <text x={x} y={y + 18} dy="0.36em" textAnchor="middle" {...textProps}>{lab}</text>;
    }
    return (
      <g>
        {mark}
        {text}
      </g>
    );
  };
}

interface FrameSpec {
  yDomain: [number, number];
  yMajor: number[];
  yMinorStep: number;
  xMajorStep?: number;
  leftLabels?: number[];
  rightLabels?: number[];
  fmt?: (v: number) => string;
  showTime?: boolean;
}

function frame(s: FrameSpec) {
  const xd: [number, number] = [0, 0.45];
  const xAll = steps(0, 0.45, 0.01);
  const yAll = steps(s.yDomain[0], s.yDomain[1], s.yMinorStep);
  const common = { type: "number" as const, allowDataOverflow: true, interval: 0 as const, mirror: true, tickLine: false, tickSize: 0, tickMargin: 0, axisLine: axisStroke };
  return [
    <XAxis key="xb" xAxisId="b" dataKey="t" orientation="bottom" height={1} domain={xd} ticks={xAll} tick={tickMark("bottom", steps(0, 0.45, s.xMajorStep || 0.1), s.showTime ? timeTicks : undefined, fmtTime)} {...common} />,
    <XAxis key="xt" xAxisId="t" dataKey="t" orientation="top" height={1} domain={xd} ticks={xAll} tick={tickMark("top", steps(0, 0.45, 0.1))} {...common} />,
    <YAxis key="yl" yAxisId="l" orientation="left" width={1} domain={s.yDomain} ticks={yAll} tick={tickMark("left", s.yMajor, s.leftLabels, s.fmt)} {...common} />,
    <YAxis key="yr" yAxisId="r" orientation="right" width={1} domain={s.yDomain} ticks={yAll} tick={tickMark("right", s.yMajor, s.rightLabels, s.fmt)} {...common} />,
  ];
}

const ROWS = [85, 295, 505, 715];
const PAD = 12;

function Panel({ col, row, data, children }: { col: 0 | 1; row: number; data?: any[]; children: React.ReactNode }) {
  const bottomRow = row === 3;
  const left = col === 0 ? 0 : 592;
  const width = col === 0 ? 600 : 586;
  const bottom = bottomRow ? 45 : PAD;
  const margin = col === 0
    ? { top: PAD, bottom, left: 116, right: 4 }
    : { top: PAD, bottom, left: 4, right: 102 };
  const height = PAD + 210 + bottom;
  return (
    <div style={{ position: "absolute", left, top: ROWS[row] - PAD }}>
      <ComposedChart width={width} height={height} margin={margin} data={data}>
        {children}
      </ComposedChart>
    </div>
  );
}

const line = (d: Pt[], color: string, w: number, dash?: string) => (
  <Line xAxisId="b" yAxisId="l" data={pts(d)} dataKey="v" type="linear" stroke={color} strokeWidth={w} strokeDasharray={dash} dot={false} activeDot={false} isAnimationActive={false} strokeLinejoin="round" />
);

const Sub = ({ c }: { c: string }) => (
  <span style={{ fontSize: "0.7em", position: "relative", top: "0.35em" }}>{c}</span>
);
const Sup = ({ c }: { c: string }) => (
  <span style={{ fontSize: "0.7em", position: "relative", top: "-0.5em" }}>{c}</span>
);

function Txt({ x, y, size = 19, anchor = "start", children }: { x: number; y: number; size?: number; anchor?: "start" | "end" | "middle"; children: React.ReactNode }) {
  const tx = anchor === "start" ? "0" : anchor === "end" ? "-100%" : "-50%";
  return (
    <div style={{ position: "absolute", left: x, top: y, transform: `translate(${tx}, -50%)`, fontSize: size, whiteSpace: "nowrap", lineHeight: 1, color: INK, fontFamily: FONT }}>
      {children}
    </div>
  );
}

function VTxt({ x, y, children, gap = 28, serif }: { x: number; y: number; children: React.ReactNode; gap?: number; serif?: boolean }) {
  return (
    <div style={{ position: "absolute", left: x, top: y, transform: "translate(-50%, -50%) rotate(-90deg)", fontSize: 19, whiteSpace: "nowrap", lineHeight: `${gap}px`, textAlign: "center", color: INK, fontFamily: serif ? SERIF : FONT }}>
      {children}
    </div>
  );
}

function Sample({ x1, x2, y, color, w, dash }: { x1: number; x2: number; y: number; color: string; w: number; dash?: string }) {
  return (
    <svg style={{ position: "absolute", left: x1, top: y - 5 }} width={x2 - x1} height={10}>
      <line x1={0} y1={5} x2={x2 - x1} y2={5} stroke={color} strokeWidth={w} strokeDasharray={dash} />
    </svg>
  );
}

const areaProps = { xAxisId: "b", yAxisId: "l", dataKey: "r", type: "linear" as const, dot: false, activeDot: false, isAnimationActive: false };

export default function App() {
  return (
    <div style={{ position: "absolute", left: 0, top: 0, width: 1178, height: 979, background: "#fff", fontFamily: FONT, overflow: "hidden" }}>
      {/* row 1 */}
      <Panel col={0} row={0}>
        {frame({ yDomain: [0, 3], yMajor: [0, 1, 2, 3], yMinorStep: 0.2, leftLabels: ticksA, fmt: fmt1 })}
        {line(powerA, "#c8c8c8", 1.3)}
        {line(densityA, INK, 1.4)}
      </Panel>
      <Panel col={1} row={0}>
        {frame({ yDomain: [0, 3], yMajor: [0, 1, 2, 3], yMinorStep: 0.2 })}
        {line(powerE, "#c8c8c8", 1.3)}
        {line(densityE, INK, 1.4)}
      </Panel>

      {/* row 2 */}
      <Panel col={0} row={1} data={envPts(mhdB)}>
        {frame({ yDomain: [-4.5, 4.5], yMajor: [-4, -2, 0, 2, 4], yMinorStep: 0.5, leftLabels: ticksB, fmt: fmtSigned })}
        <Area {...areaProps} stroke="#111" strokeWidth={0.9} fill="#111" fillOpacity={1} />
      </Panel>
      <Panel col={1} row={1} data={envPts(mhdF)}>
        {frame({ yDomain: [-4.5, 4.5], yMajor: [-4, -2, 0, 2, 4], yMinorStep: 0.5 })}
        <Area {...areaProps} stroke="#111" strokeWidth={0.9} fill="#111" fillOpacity={1} />
      </Panel>

      {/* row 3 */}
      <Panel col={0} row={2} data={envPts(bandC)}>
        {frame({ yDomain: [0, 0.6], yMajor: steps(0, 0.6, 0.1), yMinorStep: 0.05, leftLabels: ticksC, fmt: fmtPlain })}
        <Area {...areaProps} stroke="none" fill="#e2e2e2" fillOpacity={1} />
        {line(measuredC, "#808080", 1.6)}
        {line(simNoDiffC, "#000", 3.6)}
      </Panel>
      <Panel col={1} row={2} data={envPts(bandG)}>
        {frame({ yDomain: [0, 1.2], yMajor: steps(0, 1.2, 0.2), yMinorStep: 0.1, rightLabels: ticksG, fmt: fmtPlain })}
        <Area {...areaProps} stroke="none" fill="#e2e2e2" fillOpacity={1} />
        {line(measuredG, "#808080", 1.6)}
        {line(simDiffG, "#000", 3.4, "11 7")}
        {line(simNoDiffG, "#000", 3.4)}
      </Panel>

      {/* row 4 */}
      <Panel col={0} row={3}>
        {frame({ yDomain: [0, 0.75], yMajor: [0, 0.2, 0.4, 0.6], yMinorStep: 0.05, xMajorStep: 0.05, leftLabels: ticksD, fmt: fmtPlain, showTime: true })}
        {line(p2D, "#7a7a7a", 1.8)}
        {line(p1D, "#000", 1.6)}
      </Panel>
      <Panel col={1} row={3}>
        {frame({ yDomain: [0, 0.75], yMajor: [0, 0.2, 0.4, 0.6], yMinorStep: 0.05, xMajorStep: 0.05, showTime: true })}
        {line(p2H, "#7a7a7a", 1.8)}
        {line(p1H, "#000", 1.6)}
      </Panel>

      {/* titles */}
      <Txt x={364} y={40} size={29} anchor="middle">quiescent MHD</Txt>
      <Txt x={834} y={40} size={29} anchor="middle">strong MHD</Txt>

      {/* panel tags */}
      <Txt x={134} y={106}>(a)</Txt>
      <Txt x={620} y={106}>(e)</Txt>
      <Txt x={578} y={106} anchor="end">29905</Txt>
      <Txt x={1063} y={106} anchor="end">29222</Txt>
      <Txt x={134} y={317}>(b)</Txt>
      <Txt x={620} y={317}>(f)</Txt>
      <Txt x={134} y={541}>(c)</Txt>
      <Txt x={620} y={541}>(g)</Txt>
      <Txt x={134} y={743}>(d)</Txt>
      <Txt x={620} y={743}>(h)</Txt>

      {/* axis titles */}
      <VTxt x={45} y={190}>
        <div>n<Sub c="e" /> (x10<Sup c="20" /> m<Sup c={"\u22122"} />)</div>
        <div>P (MW)</div>
      </VTxt>
      <VTxt x={52} y={400} serif>
        <div>
          <span style={{ position: "relative", display: "inline-block" }}>
            {"\u03A6"}
            <span style={{ position: "absolute", left: 0, right: 0, top: "-0.62em", textAlign: "center" }}>{"\u02D9"}</span>
          </span>
          {" (V)"}
        </div>
      </VTxt>
      <VTxt x={45} y={610} gap={26}>
        <div>Neutron rate</div>
        <div>(x10<Sup c="14" /> s<Sup c={"\u22121"} />)</div>
      </VTxt>
      <VTxt x={45} y={820} gap={26}>
        <div>Count rate</div>
        <div>(MHz)</div>
      </VTxt>
      <VTxt x={1153} y={606} gap={26}>
        <div>Neutron rate</div>
        <div>(x10<Sup c="14" /> s<Sup c={"\u22121"} />)</div>
      </VTxt>
      <Txt x={356} y={966} anchor="middle">time (s)</Txt>
      <Txt x={836} y={966} anchor="middle">time (s)</Txt>

      {/* legend (c) */}
      <Sample x1={168} x2={244} y={533} color="#000" w={3.6} dash="12 10" />
      <Txt x={248} y={534} size={17}>
        Y<Sub c="T" />, D<Sub c="a" /> = 1.5 m<Sup c="2" />s<Sup c={"\u22121"} /> and D<Sub c="a" /> = 2.5 m<Sup c="2" />s<Sup c={"\u22121"} />
      </Txt>
      <Sample x1={168} x2={241} y={575} color="#000" w={3.8} />
      <Txt x={248} y={576} size={17}>
        Y<Sub c="T" />, D<Sub c="a" /> = 0 m<Sup c="2" />s<Sup c={"\u22121"} />
      </Txt>
      <Sample x1={168} x2={241} y={616} color="#aaa" w={1.3} />
      <Txt x={248} y={617} size={17}>
        Y<Sub c="n" />
      </Txt>

      {/* legend (d) */}
      <Sample x1={411} x2={471} y={745} color="#000" w={3} />
      <Txt x={477} y={746}>p<Sub c="1" /> = 0.95 m</Txt>
      <Sample x1={411} x2={471} y={781} color="#999" w={1.2} />
      <Txt x={477} y={782}>p<Sub c="2" /> = 1.15 m</Txt>

      {/* legend (h) */}
      <Sample x1={893} x2={953} y={744} color="#000" w={3} />
      <Txt x={959} y={745}>p<Sub c="1" /> = 0.95 m</Txt>
      <Sample x1={893} x2={953} y={780} color="#999" w={1.2} />
      <Txt x={959} y={781}>p<Sub c="2" /> = 1.15 m</Txt>
    </div>
  );
}
